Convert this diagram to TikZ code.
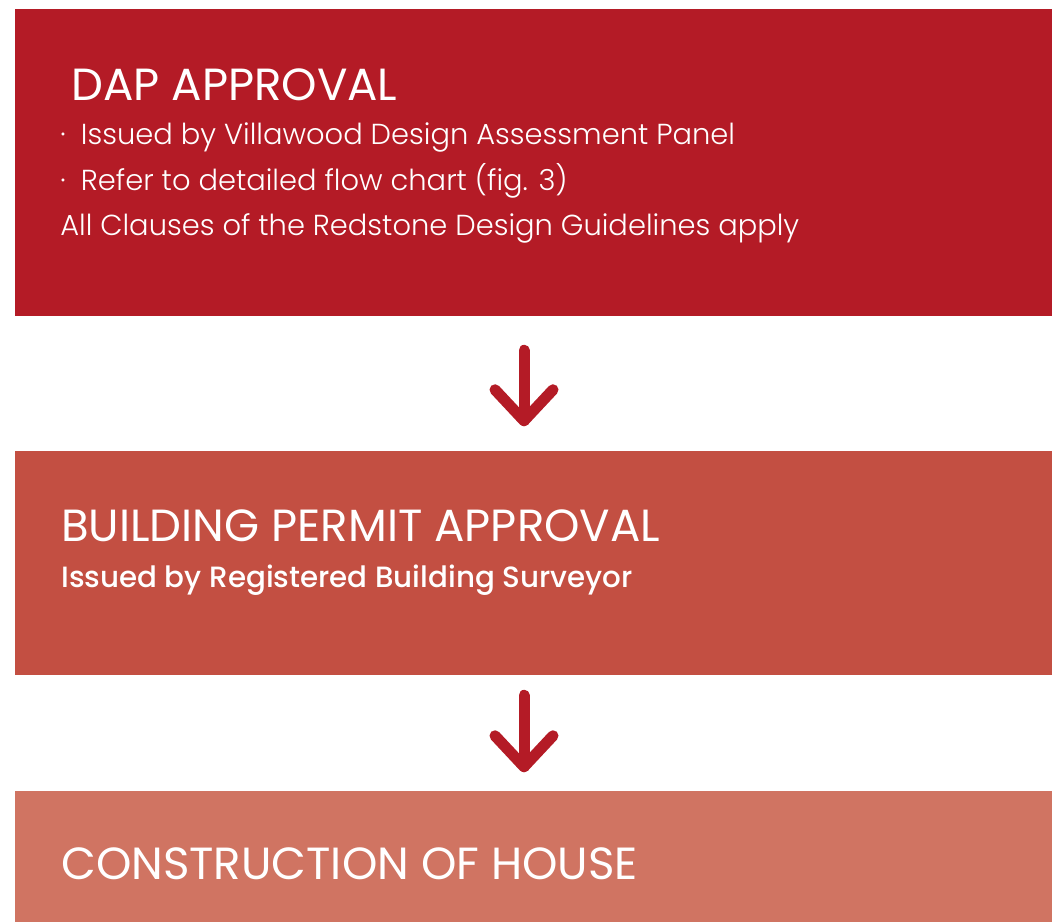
\documentclass[tikz,border=0pt]{standalone}
\usepackage{fontspec}
\setmainfont{Poppins}
\newfontfamily\lightfont{Poppins Light}
\newfontfamily\medfont{Poppins Medium}
\usetikzlibrary{calc}
\definecolor{boxA}{HTML}{B41B26}
\definecolor{boxB}{HTML}{C34F42}
\definecolor{boxC}{HTML}{D07462}
\definecolor{arrowc}{HTML}{B41B26}
\tikzset{
  stage/.style={draw=none, inner sep=0pt, minimum width=777.75pt},
  ttl/.style={anchor=base west, inner sep=0pt, text=white, font=\fontsize{33.8}{34}\selectfont},
  body/.style={anchor=base west, inner sep=0pt, text=white, font=\lightfont\fontsize{21.7}{22}\selectfont},
  sub/.style={anchor=base west, inner sep=0pt, text=white, font=\medfont\fontsize{22}{22}\selectfont},
  flowarrow/.style={draw=arrowc, line width=8.25pt, line cap=round, line join=round}
}
\begin{document}
\begin{tikzpicture}[x=0.75pt,y=-0.75pt]
\useasboundingbox (0,0) rectangle (1052,922);
\fill[white] (0,0) rectangle (1052,922);
% boxes
\node[stage, fill=boxA, minimum height=230.25pt] (b1) at (533.5,162.5) {};
\node[stage, fill=boxB, minimum height=168pt] (b2) at (533.5,563) {};
\node[stage, fill=boxC, minimum height=98.25pt] (b3) at (533.5,856.5) {};
% texts
\node[ttl] (t1) at (71,100) {DAP APPROVAL};
\node[body] (l1) at (60,144) {\makebox[15.5pt][l]{·}Issued by Villawood Design Assessment Panel};
\node[body] (l2) at (60,190) {\makebox[15.5pt][l]{·}Refer to detailed flow chart (fig. 3)};
\node[body] (l3) at (60,235) {All Clauses of the Redstone Design Guidelines apply};
\node[ttl] (t2) at (61,541) {BUILDING PERMIT APPROVAL};
\node[sub] (s2) at (61,587) {Issued by Registered Building Surveyor};
\node[ttl] (t3) at (61,879) {CONSTRUCTION OF HOUSE};
% arrows
\coordinate (a1s) at ($(b1.south)+(-9.5,34)$);
\coordinate (a1e) at ($(b2.north)+(-9.5,-30)$);
\draw[flowarrow] (a1s) -- (a1e);
\draw[flowarrow] ($(a1e)+(-29,-31)$) -- (a1e) -- ($(a1e)+(29,-31)$);
\coordinate (a2s) at ($(b2.south)+(-9.5,20)$);
\coordinate (a2e) at ($(b3.north)+(-9.5,-24)$);
\draw[flowarrow] (a2s) -- (a2e);
\draw[flowarrow] ($(a2e)+(-29,-31)$) -- (a2e) -- ($(a2e)+(29,-31)$);
\end{tikzpicture}
\end{document}
